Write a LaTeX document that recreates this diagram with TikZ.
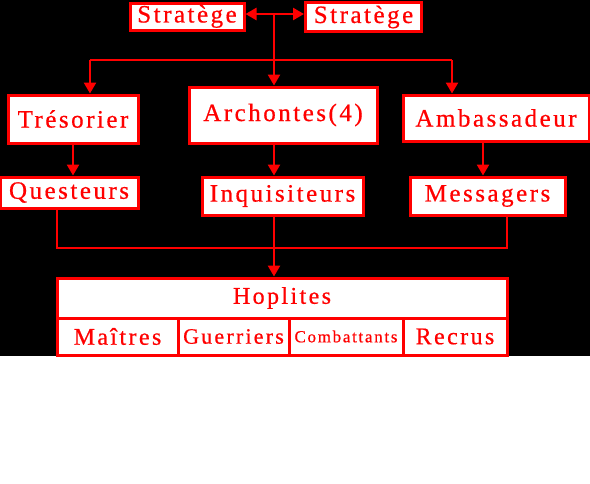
\documentclass[tikz,border=0pt]{standalone}
\usepackage{fontspec}
\setmainfont{Liberation Serif}[LetterSpace=10,FakeBold=0.6]
\usetikzlibrary{arrows.meta}
\definecolor{rr}{RGB}{255,0,0}
\tikzset{
  box/.style={draw=rr, fill=white, line width=3pt, text=rr, inner sep=0pt, font=\fontsize{25}{25}\selectfont},
  con/.style={draw=rr, line width=2.5pt},
  arr/.style={con, -{Triangle[length=11pt,width=12pt]}},
}
\begin{document}
\begin{tikzpicture}[x=1pt,y=-1pt]
\useasboundingbox (0,0) rectangle (590,483);
\fill[white] (0,0) rectangle (590,483);
\fill[black] (0,0) rectangle (590,356);
% top
\node[box, minimum width=114pt, minimum height=27pt] (sl) at (187,16.5) {Stratège};
\node[box, minimum width=116pt, minimum height=29pt] (sr) at (363.5,17) {Stratège};
% second row
\node[box, minimum width=130pt, minimum height=48pt] (tres) at (73,119) {Trésorier};
\node[box, minimum width=188pt, minimum height=56pt] (arch) at (283,115) {Archontes(4)};
\node[box, minimum width=186pt, minimum height=46pt] (amb) at (496,118) {Ambassadeur};
% third row
\node[box, minimum width=138pt, minimum height=31pt] (quest) at (69,192.5) {Questeurs};
\node[box, minimum width=161pt, minimum height=38pt] (inq) at (282.5,196) {Inquisiteurs};
\node[box, minimum width=155pt, minimum height=38pt] (mess) at (487.5,196) {Messagers};
% hoplites
\node[box, minimum width=450pt, minimum height=40pt, font=\fontsize{24}{24}\selectfont] (hop) at (282,298) {Hoplites};
\node[box, minimum width=121pt, minimum height=37pt, font=\fontsize{24}{24}\selectfont] (mai) at (117.5,336.5) {Maîtres};
\node[box, minimum width=111pt, minimum height=37pt, font=\fontsize{22}{22}\selectfont] (gue) at (233.5,336.5) {Guerriers};
\node[box, minimum width=114pt, minimum height=37pt, font=\fontsize{17}{17}\selectfont] (com) at (346,336.5) {Combattants};
\node[box, minimum width=104pt, minimum height=37pt, font=\fontsize{24}{24}\selectfont] (rec) at (455,336.5) {Recrus};
% coordinates
\coordinate (j) at (274,14);
\coordinate (hl) at (90,60);
\coordinate (hr) at (452,60);
\coordinate (ta) at (73,0);
\coordinate (ma) at (483,0);
\coordinate (b1) at (57,248);
\coordinate (b2) at (507,248);
\coordinate (bm) at (274,248);
% connectors
\draw[arr] (j) -- (sl.east |- j);
\draw[arr] (j) -- (sr.west |- j);
\draw[arr] (j) -- (j |- arch.north);
\draw[con] (hl) -- (hr);
\draw[arr] (hl) -- (hl |- tres.north);
\draw[arr] (hr) -- (hr |- amb.north);
\draw[arr] (ta |- tres.south) -- (ta |- quest.north);
\draw[arr] (j |- arch.south) -- (j |- inq.north);
\draw[arr] (ma |- amb.south) -- (ma |- mess.north);
\draw[con] (b1 |- quest.south) -- (b1) -- (b2) -- (b2 |- mess.south);
\draw[con] (bm |- inq.south) -- (bm);
\draw[arr] (bm) -- (bm |- hop.north);
\end{tikzpicture}
\end{document}
